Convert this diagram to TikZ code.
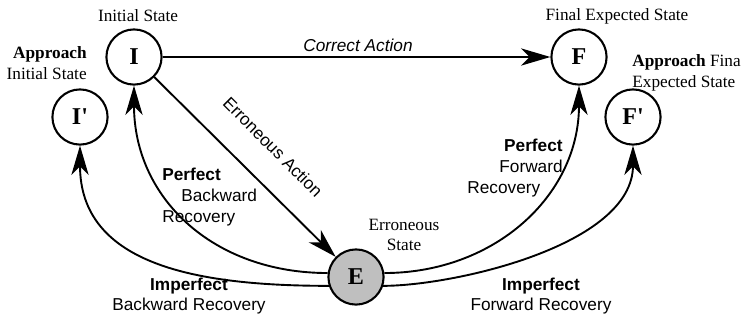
\documentclass[tikz,border=0pt]{standalone}
\usepackage{fontspec}
\setmainfont{Liberation Serif}
\setsansfont{Liberation Sans}
\usetikzlibrary{arrows.meta}

\begin{document}
\begin{tikzpicture}[x=0.58pt,y=-0.58pt]
    \tikzstyle{state}=[circle,draw,line width=1.2pt,minimum size=32pt,inner sep=0pt,font=\fontsize{14}{14}\selectfont\bfseries]
    \tikzstyle{lbl}=[inner sep=0pt,font=\fontsize{10}{12}\selectfont]
    \tikzstyle{note}=[inner sep=0pt,font=\fontsize{10}{12}\selectfont\sffamily]
    \tikzstyle{trans}=[line width=1.1pt,-{Stealth[length=17pt,width=10pt,inset=5pt]}]
    \useasboundingbox (0,0) rectangle (741,320);
    \clip (0,0) rectangle (741,320);
    % states
    \node[state] (I) at (134,57) {I};
    \node[state] (Ip) at (80,117) {I\textquotesingle};
    \node[state] (F) at (579,57) {F};
    \node[state] (Fp) at (633,117) {F\textquotesingle};
    \node[state,fill=gray!50] (E) at (356,277) {E};
    % state captions
    \node[lbl] (Itxt) at (138,16) {Initial State};
    \node[lbl,align=right,anchor=east] (Iptxt) at (87,63) {\textbf{Approach}\\Initial State};
    \node[lbl] (Ftxt) at (617,16) {Final Expected State};
    \node[lbl,align=left,anchor=west] (Fptxt) at (632,73) {\textbf{Approach} Final\\Expected State};
    \node[lbl,align=center] (Etxt) at (404,235) {Erroneous\\State};
    % actions
    \draw[trans] (I) -- (F);
    \draw[trans] (I) -- (E);
    \node[note,font=\fontsize{10}{12}\selectfont\sffamily\itshape] (corract) at (358,45) {Correct Action};
    \node[note,rotate=-45] (erract) at (273,147) {Erroneous Action};
    % recoveries
    \draw[trans] (E.172) .. controls +(-115,0) and +(0,112) .. (I.south);
    \draw[trans] (E.198) .. controls +(-130,0) and +(0,120) .. (Ip.south);
    \draw[trans] (E.8) .. controls +(110,0) and +(0,110) .. (F.south);
    \draw[trans] (E.-18) .. controls +(70,0) and +(0,100) .. (Fp.south);
    \node[note,align=left,anchor=west] (pbr) at (162,197) {\textbf{Perfect}\\\hspace*{11pt}Backward\\Recovery};
    \node[note,align=right,anchor=east] (pfr) at (563,168) {\textbf{Perfect}\\Forward\hspace*{6pt}\\Recovery\hspace*{13pt}};
    \node[note,align=center] (ibr) at (189,296) {\textbf{Imperfect}\\Backward Recovery};
    \node[note,align=center] (ifr) at (541,296) {\textbf{Imperfect}\\Forward Recovery};
\end{tikzpicture}
\end{document}
